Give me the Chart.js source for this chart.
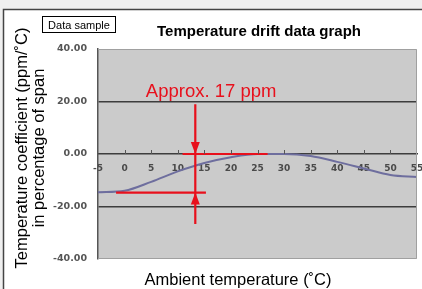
<!DOCTYPE html>
<html>
<head>
<meta charset="utf-8">
<script src="https://cdn.jsdelivr.net/npm/chart.js@4/dist/chart.umd.min.js"></script>
<style>
  html, body { margin: 0; padding: 0; background: #efefef; }
  canvas { display: block; }
</style>
</head>
<body>
<canvas id="driftChart" width="422" height="289"></canvas>
<script>
// Chart data
const temps = [-5, 0, 5, 10, 15, 20, 25, 30, 35, 40, 45, 50, 55];
const drift = [-14.6, -14.0, -10.6, -6.6, -3.4, -1.2, 0, 0, -0.8, -3.0, -5.5, -8.0, -8.8];

// red "span" marker: top level, bottom level, vertical measuring line
const topMark = [{ x: 10.9, y: 0 }, { x: 26.9, y: 0 }];
const bottomMark = [{ x: -1.6, y: -14.7 }, { x: 15.3, y: -14.7 }];
const spanMark = [{ x: 13.3, y: 19.0 }, { x: 13.3, y: -26.7 }];
const arrowTips = [{ x: 13.3, y: 0, dir: 1 }, { x: 13.3, y: -14.7, dir: -1 }];
const spanLabel = { text: 'Approx. 17 ppm', x: 4.0, y: 21.6 };

const FONT = "'Liberation Sans', Arial, sans-serif";
const RED = '#e8101c';

// Frame, plot background and all the loose text
const decorations = {
    id: 'decorations',
    beforeDraw(chart) {
        const { ctx, chartArea: a } = chart;
        ctx.save();
        ctx.fillStyle = '#efefef';
        ctx.fillRect(0, 0, chart.width, chart.height);
        ctx.fillStyle = '#ffffff';
        ctx.fillRect(4, 10, chart.width, chart.height);
        ctx.strokeStyle = '#444';
        ctx.lineWidth = 1.5;
        ctx.beginPath();
        ctx.moveTo(3.5, chart.height + 2);
        ctx.lineTo(3.5, 9.5);
        ctx.lineTo(chart.width + 2, 9.5);
        ctx.stroke();
        ctx.fillStyle = '#cbcbcb';
        ctx.fillRect(a.left, a.top, a.right - a.left, a.bottom - a.top);
        ctx.restore();
    },
    afterDatasetsDraw(chart) {
        const { ctx, chartArea: a, scales: { x, y } } = chart;
        ctx.save();
        // light border round the plot (left side is the y axis line)
        ctx.strokeStyle = '#a0a0a0';
        ctx.lineWidth = 1;
        ctx.beginPath();
        ctx.moveTo(a.left, a.top + 0.5);
        ctx.lineTo(a.right - 0.5, a.top + 0.5);
        ctx.lineTo(a.right - 0.5, a.bottom - 0.5);
        ctx.lineTo(a.left, a.bottom - 0.5);
        ctx.stroke();

        // small tick marks above the zero line
        const y0 = y.getPixelForValue(0);
        ctx.strokeStyle = '#555';
        ctx.beginPath();
        for (let t = 0; t <= 50; t += 5) {
            const px = Math.round(x.getPixelForValue(t)) + 0.5;
            ctx.moveTo(px, y0 - 4);
            ctx.lineTo(px, y0);
        }
        ctx.stroke();

        // arrow heads on the span line
        ctx.fillStyle = RED;
        arrowTips.forEach(p => {
            const px = x.getPixelForValue(p.x);
            const py = y.getPixelForValue(p.y);
            ctx.beginPath();
            ctx.moveTo(px, py);
            ctx.lineTo(px - 4.5, py - p.dir * 12);
            ctx.lineTo(px + 4.5, py - p.dir * 12);
            ctx.closePath();
            ctx.fill();
        });

        ctx.font = `18.5px ${FONT}`;
        ctx.textBaseline = 'alphabetic';
        ctx.fillText(spanLabel.text, x.getPixelForValue(spanLabel.x), y.getPixelForValue(spanLabel.y));
        ctx.restore();
    },
    afterDraw(chart) {
        const { ctx } = chart;
        ctx.save();
        ctx.fillStyle = '#000';
        ctx.textBaseline = 'alphabetic';

        // "Data sample" tag
        ctx.strokeStyle = '#000';
        ctx.lineWidth = 1;
        ctx.strokeRect(42.5, 16.5, 73, 16);
        ctx.font = `11px ${FONT}`;
        ctx.textAlign = 'center';
        ctx.fillText('Data sample', 79, 28.5);

        ctx.font = `bold 15px ${FONT}`;
        ctx.fillText('Temperature drift data graph', 259, 36);

        ctx.font = `16.5px ${FONT}`;
        ctx.fillText('Ambient temperature (\u02DAC)', 238, 285);

        ctx.translate(27, 148);
        ctx.rotate(-Math.PI / 2);
        ctx.fillText('Temperature coefficient (ppm/\u02DAC)', 0, 0);
        ctx.fillText('in percentage of span', 0, 16.5);
        ctx.restore();
    }
};

const lineOpts = { borderColor: RED, borderWidth: 2.2, pointRadius: 0, tension: 0, fill: false };

new Chart(document.getElementById('driftChart'), {
    type: 'line',
    data: {
        datasets: [
            { label: 'top', data: topMark, ...lineOpts },
            { label: 'bottom', data: bottomMark, ...lineOpts },
            { label: 'span', data: spanMark, ...lineOpts },
            {
                label: 'drift',
                data: temps.map((t, i) => ({ x: t, y: drift[i] })),
                borderColor: '#6e6e9e',
                borderWidth: 2,
                pointRadius: 0,
                cubicInterpolationMode: 'monotone',
                fill: false
            }
        ]
    },
    options: {
        responsive: false,
        animation: false,
        devicePixelRatio: 1,
        layout: { padding: { top: 49, bottom: 30, right: 5, left: 0 } },
        plugins: { legend: { display: false }, tooltip: { enabled: false } },
        scales: {
            x: {
                type: 'linear',
                position: { y: 0 },
                min: -5, max: 55,
                // labels at the ends may overhang; don't let them shrink the plot
                afterFit(scale) { scale.paddingLeft = 0; scale.paddingRight = 0; },
                grid: { display: false, drawTicks: false },
                border: { color: '#3d3d3d', width: 1.5 },
                ticks: {
                    stepSize: 5,
                    padding: 9,
                    color: '#4a4a4a',
                    font: { family: 'DejaVu Sans', weight: 'bold', size: 9 }
                }
            },
            y: {
                min: -40, max: 40,
                afterFit(scale) { scale.width = 98; },
                grid: {
                    drawTicks: false,
                    lineWidth: 1.5,
                    color: c => (c.tick && Math.abs(c.tick.value) === 20) ? '#3d3d3d' : 'rgba(0,0,0,0)'
                },
                border: { color: '#555', width: 1.5 },
                ticks: {
                    stepSize: 20,
                    padding: 11,
                    color: '#555',
                    font: { family: 'DejaVu Sans', weight: 'bold', size: 9.5 },
                    callback: v => v.toFixed(2)
                }
            }
        }
    },
    plugins: [decorations]
});
</script>
</body>
</html>
